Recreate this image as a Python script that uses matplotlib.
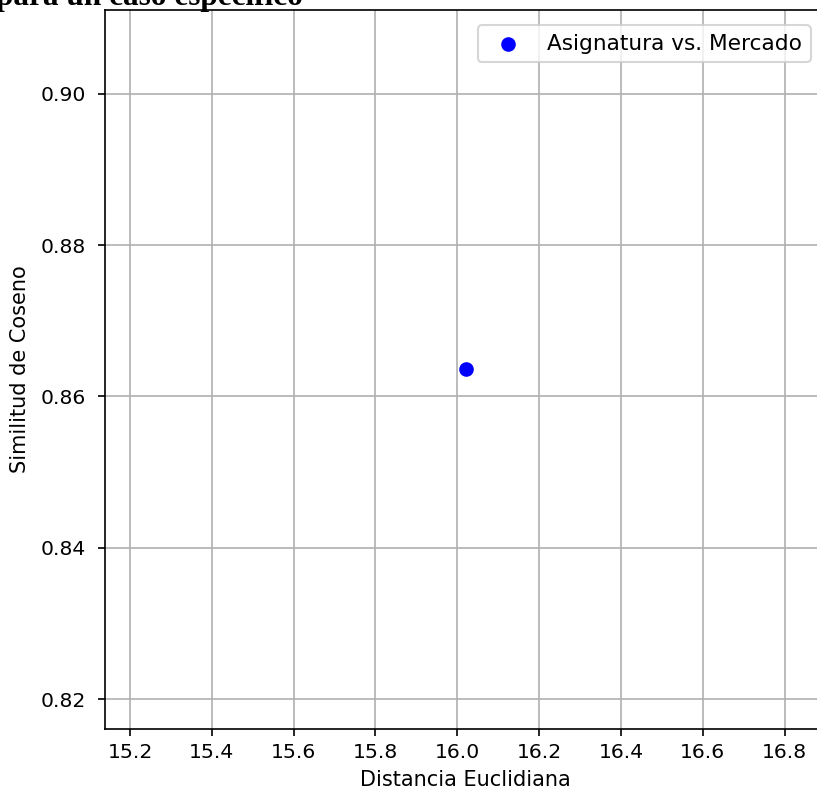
import matplotlib
matplotlib.use("Agg")
import matplotlib.pyplot as plt

# Data
labels = ["Asignatura vs. Mercado"]
dist_euclid = [16.02]
sim_coseno = [0.8636]

title_text = "para un caso específico"
xlabel = "Distancia Euclidiana"
ylabel = "Similitud de Coseno"

DPI = 150
fig = plt.figure(figsize=(817 / DPI, 792 / DPI), dpi=DPI)
ax = fig.add_axes([105 / 817, (792 - 728.5) / 792, 721 / 817, (728.5 - 10) / 792])

ax.scatter(dist_euclid, sim_coseno, color="blue", label=labels[0])
ax.set_xlabel(xlabel)
ax.set_ylabel(ylabel, labelpad=5)
ax.tick_params(labelsize=9.8)
ax.tick_params(axis="y", pad=5.5)
ax.grid(True)
ax.legend(loc="upper right", fontsize=10.4, borderaxespad=0.7)

fig.text(-4 / 817, 1 - 4.5 / 792, title_text, ha="left", va="baseline",
         fontsize=15, fontweight="bold", family=["Liberation Serif", "DejaVu Serif"])

fig.savefig("out.png", dpi=DPI)
